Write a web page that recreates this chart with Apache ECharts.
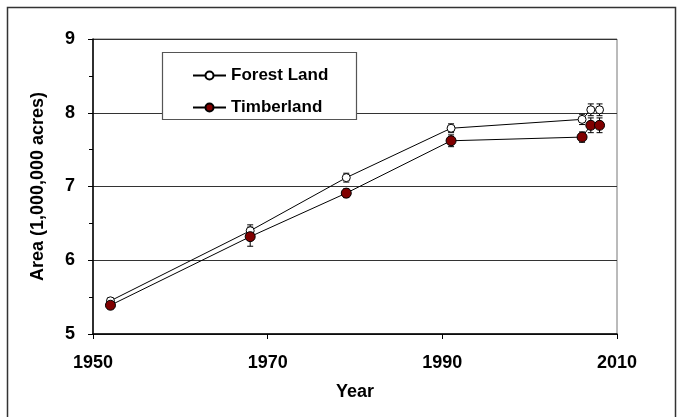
<!DOCTYPE html>
<html>
<head>
<meta charset="utf-8">
<script src="https://cdn.jsdelivr.net/npm/echarts@6/dist/echarts.min.js"></script>
<style>
html,body{margin:0;padding:0;background:#fff;}
#chart{width:680px;height:417px;}
</style>
</head>
<body>
<div id="chart"></div>
<script>
var years = [1952, 1968, 1979, 1991, 2006, 2007, 2008];
var forestLand = [5.45, 6.40, 7.12, 7.79, 7.91, 8.04, 8.04];
var forestErr = [0.04, 0.08, 0.06, 0.06, 0.07, 0.08, 0.08];
var timberland = [5.39, 6.32, 6.91, 7.62, 7.67, 7.83, 7.83];
var timberErr = [0.05, 0.13, 0.06, 0.08, 0.07, 0.10, 0.10];
var xTicks = [1950, 1970, 1990, 2010];
var yTicks = [5, 6, 7, 8, 9];
var seriesNames = ['Forest Land', 'Timberland'];
var xTitle = 'Year';
var yTitle = 'Area (1,000,000 acres)';

var FONT = '"Liberation Sans", Arial, sans-serif';

function pairs(vals) { return years.map(function (y, i) { return [y, vals[i]]; }); }
function errData(vals, errs) { return years.map(function (y, i) { return [y, vals[i] - errs[i], vals[i] + errs[i]]; }); }

function errRender(params, api) {
  var x = api.value(0);
  var lo = api.coord([x, api.value(1)]);
  var hi = api.coord([x, api.value(2)]);
  var cap = 3;
  var st = { stroke: '#000', lineWidth: 1 };
  return {
    type: 'group',
    children: [
      { type: 'line', shape: { x1: lo[0], y1: lo[1], x2: hi[0], y2: hi[1] }, style: st },
      { type: 'line', shape: { x1: lo[0] - cap, y1: lo[1], x2: lo[0] + cap, y2: lo[1] }, style: st },
      { type: 'line', shape: { x1: hi[0] - cap, y1: hi[1], x2: hi[0] + cap, y2: hi[1] }, style: st }
    ]
  };
}

var chart = echarts.init(document.getElementById('chart'));
chart.setOption({
  animation: false,
  backgroundColor: '#fff',
  graphic: [
    { type: 'rect', shape: { x: 7.5, y: 7.5, width: 668, height: 420 }, style: { fill: 'none', stroke: '#333', lineWidth: 1.5 }, z: 1 },
    { type: 'rect', shape: { x: 162.5, y: 52.5, width: 194, height: 67 }, style: { fill: '#fff', stroke: '#555', lineWidth: 1.2 }, z: 10 }
  ],
  grid: { left: 93, right: 63, top: 39, bottom: 83, show: true, borderColor: '#777', borderWidth: 1 },
  legend: {
    data: seriesNames,
    orient: 'vertical',
    left: 187,
    top: 62,
    itemWidth: 33,
    itemHeight: 10,
    itemGap: 15,
    z: 20,
    textStyle: { fontFamily: FONT, fontWeight: 'bold', fontSize: 17, lineHeight: 17, color: '#000' }
  },
  xAxis: {
    type: 'value',
    min: xTicks[0], max: xTicks[xTicks.length - 1], interval: 20,
    name: xTitle, nameLocation: 'middle', nameGap: 49,
    nameTextStyle: { fontFamily: FONT, fontWeight: 'bold', fontSize: 18, color: '#000' },
    axisLine: { lineStyle: { color: '#000', width: 1.5 } },
    axisTick: { show: true, inside: false, length: 5, lineStyle: { color: '#000' } },
    splitLine: { show: false },
    axisLabel: { margin: 20, fontFamily: FONT, fontWeight: 'bold', fontSize: 18, lineHeight: 18, color: '#000',
      formatter: function (v) { return String(v); } }
  },
  yAxis: {
    type: 'value',
    min: yTicks[0], max: yTicks[yTicks.length - 1], interval: 1,
    name: yTitle, nameLocation: 'middle', nameGap: 46, nameRotate: 90,
    nameTextStyle: { fontFamily: FONT, fontWeight: 'bold', fontSize: 18, color: '#000' },
    axisLine: { show: true, lineStyle: { color: '#000', width: 1.5 } },
    axisTick: { show: true, inside: false, length: 5, lineStyle: { color: '#000' } },
    minorTick: { show: true, splitNumber: 2, length: 4, lineStyle: { color: '#000' } },
    splitLine: { show: true, lineStyle: { color: '#333', width: 1 } },
    axisLabel: { margin: 18, fontFamily: FONT, fontWeight: 'bold', fontSize: 18, color: '#000' }
  },
  series: [
    { type: 'custom', name: 'fErr', renderItem: errRender, data: errData(forestLand, forestErr), z: 2, silent: true },
    { type: 'custom', name: 'tErr', renderItem: errRender, data: errData(timberland, timberErr), z: 2, silent: true },
    {
      type: 'line', name: seriesNames[0], data: pairs(forestLand), z: 3,
      symbol: 'circle', symbolSize: 8, showAllSymbol: true,
      lineStyle: { color: '#000', width: 1 },
      itemStyle: { color: '#fff', borderColor: '#000', borderWidth: 1 }
    },
    {
      type: 'line', name: seriesNames[1], data: pairs(timberland), z: 4,
      symbol: 'circle', symbolSize: 10, showAllSymbol: true,
      lineStyle: { color: '#000', width: 1 },
      itemStyle: { color: '#800000', borderColor: '#000', borderWidth: 1 }
    }
  ]
});
</script>
</body>
</html>
